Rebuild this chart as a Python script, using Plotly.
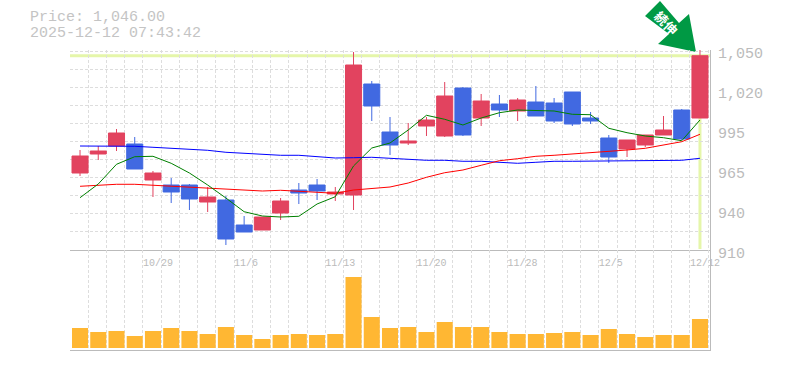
import plotly.graph_objects as go

# ---- data ----
dates = ["10/23","10/24","10/27","10/28","10/29","10/30","10/31","11/4","11/5","11/6",
         "11/7","11/10","11/11","11/12","11/13","11/14","11/17","11/18","11/19","11/20",
         "11/21","11/25","11/26","11/27","11/28","12/1","12/2","12/3","12/4","12/5",
         "12/8","12/9","12/10","12/11","12/12"]
open_ = [963.9,977.2,982.8,984.2,959.0,955.5,955.5,943.6,945.0,927.5,924.0,935.9,952.0,955.5,949.2,
         948.5,1026.2,992.6,984.9,996.8,989.8,1023.4,1002.4,1012.2,1007.3,1013.6,1012.9,1020.6,1002.4,
         988.4,980.7,983.5,990.5,1008.0,1002.4]
high = [980.0,982.8,994.7,989.1,965.3,960.4,956.2,954.1,947.8,933.8,933.1,946.4,956.9,959.7,954.1,
        1048.6,1028.3,1003.1,998.9,1003.1,1027.6,1024.1,1019.2,1018.5,1016.4,1024.8,1016.4,1020.6,
        1006.6,990.5,987.0,990.5,1003.8,1008.7,1050.0]
low = [961.8,973.0,979.3,966.7,947.1,942.9,938.0,936.6,913.5,922.6,924.0,931.0,942.2,945.0,944.3,
       938.0,1000.3,976.5,983.5,989.8,989.1,989.8,996.8,1003.1,1000.3,1003.8,998.9,996.8,998.2,970.9,
       975.1,982.1,990.5,987.0,1002.4]
close = [975.8,979.3,991.9,966.7,963.9,950.6,945.7,947.1,917.7,922.6,933.1,944.3,949.9,951.3,950.6,
         1039.5,1010.8,983.5,986.3,1001.0,1017.8,990.5,1014.3,1008.0,1015.0,1003.8,1000.3,998.2,1000.3,
         975.1,987.0,990.5,994.0,987.7,1046.0]
ma5 = [946.6,956.2,970.0,975.3,975.6,970.7,963.9,955.5,946.4,936.8,933.8,933.1,933.6,942.2,947.3,
       968.8,981.4,984.9,994.0,1004.3,1001.5,997.5,1002.4,1006.1,1008.0,1007.5,1007.3,1005.0,1004.7,
       995.2,992.1,989.8,988.6,986.5,1001.0]
ma25 = [954.6,955.3,956.0,956.0,955.3,954.6,953.9,953.2,952.5,951.8,951.3,951.8,951.1,950.4,949.7,
        952.0,953.2,954.1,956.9,960.9,964.1,966.0,969.3,972.5,973.9,975.6,976.3,977.2,978.4,978.8,
        980.0,981.2,983.3,985.8,991.0]
ma75 = [982.8,982.8,982.8,982.6,981.9,981.2,980.5,979.8,978.4,977.7,976.7,976.3,976.3,975.6,974.4,
        974.6,974.9,974.2,973.5,972.8,972.8,972.1,972.1,971.4,970.7,971.4,972.1,972.1,972.3,972.5,
        972.7,972.8,972.8,972.8,974.2]
volume = [20,16,17,12,17,20,17,14,21,13,9,13,14,13,14,71,31,20,21,16,26,21,21,16,14,14,15,16,13,19,14,11,13,13,29]

price_ticks = [1050,1022,994,966,938,910]
price_labels = ["1,050","1,020","995","965","940","910"]
date_ticks = ["10/29","11/6","11/13","11/20","11/28","12/5","12/12"]
title_lines = ["Price: 1,046.00","2025-12-12 07:43:42"]
badge_text = ["続","伸"]

# ---- layout constants ----
W, H = 785, 370
L, R, T, B = 70, 710, 50, 350
MID = 250
STEP = (R-L)/35.1
def px(x): return (x-L)/(R-L)
def py(y): return (B-y)/(B-T)

idx = list(range(len(dates)))
fig = go.Figure()

fig.add_trace(go.Candlestick(x=idx, open=open_, high=high, low=low, close=close, xaxis="x", yaxis="y",
    increasing=dict(line=dict(color="#E2435F",width=1), fillcolor="#E2435F"),
    decreasing=dict(line=dict(color="#4169E1",width=1), fillcolor="#4169E1"),
    whiskerwidth=0, showlegend=False, hoverinfo="skip"))
fig.add_trace(go.Scatter(x=idx,y=ma75,mode="lines",line=dict(color="#0000FF",width=1),xaxis="x",yaxis="y",showlegend=False))
fig.add_trace(go.Scatter(x=idx,y=ma25,mode="lines",line=dict(color="#FF0000",width=1),xaxis="x",yaxis="y",showlegend=False))
fig.add_trace(go.Scatter(x=idx,y=ma5,mode="lines",line=dict(color="#008000",width=1),xaxis="x",yaxis="y",showlegend=False))
fig.add_trace(go.Bar(x=idx,y=volume,marker=dict(color="#FFB733",line=dict(width=0)),width=0.88,xaxis="x2",yaxis="y2",showlegend=False))

x_range = [-0.55, 34.55]
grid = dict(showgrid=True, gridcolor="#DDDDDD", griddash="3px,2px", gridwidth=1)
# labels start at the left edge of their day's slot: centre = slot start + half the text width (6 px per char)
xticks = [dates.index(d) - 0.55 + (len(d)*6/2)/STEP for d in date_ticks]
fig.update_layout(
    width=W, height=H, paper_bgcolor="white", plot_bgcolor="white",
    margin=dict(l=L, r=W-R, t=T, b=H-B, pad=0), boxgap=0.12, boxgroupgap=0, bargap=0.12,
    font=dict(family="Liberation Mono", color="#BBBBBB"),
    xaxis=dict(domain=[0,1], range=x_range, anchor="y", tickmode="array", tickvals=xticks, ticktext=date_ticks,
               showgrid=False, ticks="", tickfont=dict(size=10,color="#BBBBBB"), tickangle=0, ticklabelstandoff=3,
               automargin=False, rangeslider=dict(visible=False), zeroline=False, showline=True, linecolor="#BBBBBB", linewidth=1,
               minor=dict(tick0=-0.55, dtick=1, ticks="", **grid)),
    yaxis=dict(domain=[py(MID),1], range=[910,1050], anchor="x", side="right", tickmode="array",
               tickvals=price_ticks, ticktext=price_labels, showgrid=False, ticks="", ticklabelstandoff=4,
               automargin=False, ticklabelshift=3, tickfont=dict(size=15,color="#BBBBBB"), zeroline=False, showline=True,
               linecolor="#BBBBBB", linewidth=1,
               minor=dict(tick0=910, dtick=12.66, ticks="", **grid)),
    xaxis2=dict(domain=[0,1], range=x_range, anchor="y2", showticklabels=False, ticks="", showgrid=False, zeroline=False,
                automargin=False, showline=True, linecolor="#BBBBBB", linewidth=1,
                minor=dict(tick0=-0.55, dtick=1, ticks="", **grid)),
    yaxis2=dict(domain=[0,py(MID)], range=[-2,98], anchor="x2", side="right", showticklabels=False, ticks="", showgrid=False,
                automargin=False, zeroline=False, showline=True, linecolor="#BBBBBB", linewidth=1),
)

# current price guide lines
fig.add_shape(type="line", xref="paper", yref="y", x0=0, x1=1, y0=close[-1], y1=close[-1],
              line=dict(color="#E5F6AA", width=3), layer="below")
fig.add_shape(type="line", xref="x", yref="y", x0=idx[-1], x1=idx[-1], y0=910.7, y1=close[-1],
              line=dict(color="#E5F6AA", width=3), layer="below")

# arrow badge
arrow = [(660,1),(645,16),(669,34),(658,44),(696,52),(689,14),(679,23)]
path = "M " + " L ".join(f"{px(a):.5f},{py(b):.5f}" for a,b in arrow) + " Z"
fig.add_shape(type="path", xref="paper", yref="paper", path=path, fillcolor="#009944", line=dict(width=0), layer="below")

# header and badge text
for t,y in zip(title_lines,[18,33]):
    fig.add_annotation(x=px(28), y=py(y), xref="paper", yref="paper", text=t, showarrow=False, xanchor="left", yanchor="middle",
                       font=dict(family="Liberation Mono", size=15, color="#C4C4C4"))
for ch,cx,cy in zip(badge_text,[661,671],[18,27]):
    fig.add_annotation(x=px(cx), y=py(cy), xref="paper", yref="paper", text=ch, textangle=45, showarrow=False,
                       xanchor="center", yanchor="middle",
                       font=dict(family="Noto Sans CJK JP", size=13, color="#FFFFFF", weight="bold"))

fig.write_html("out.html", config={"displayModeBar": False}, post_script="document.body.style.margin='0';")
